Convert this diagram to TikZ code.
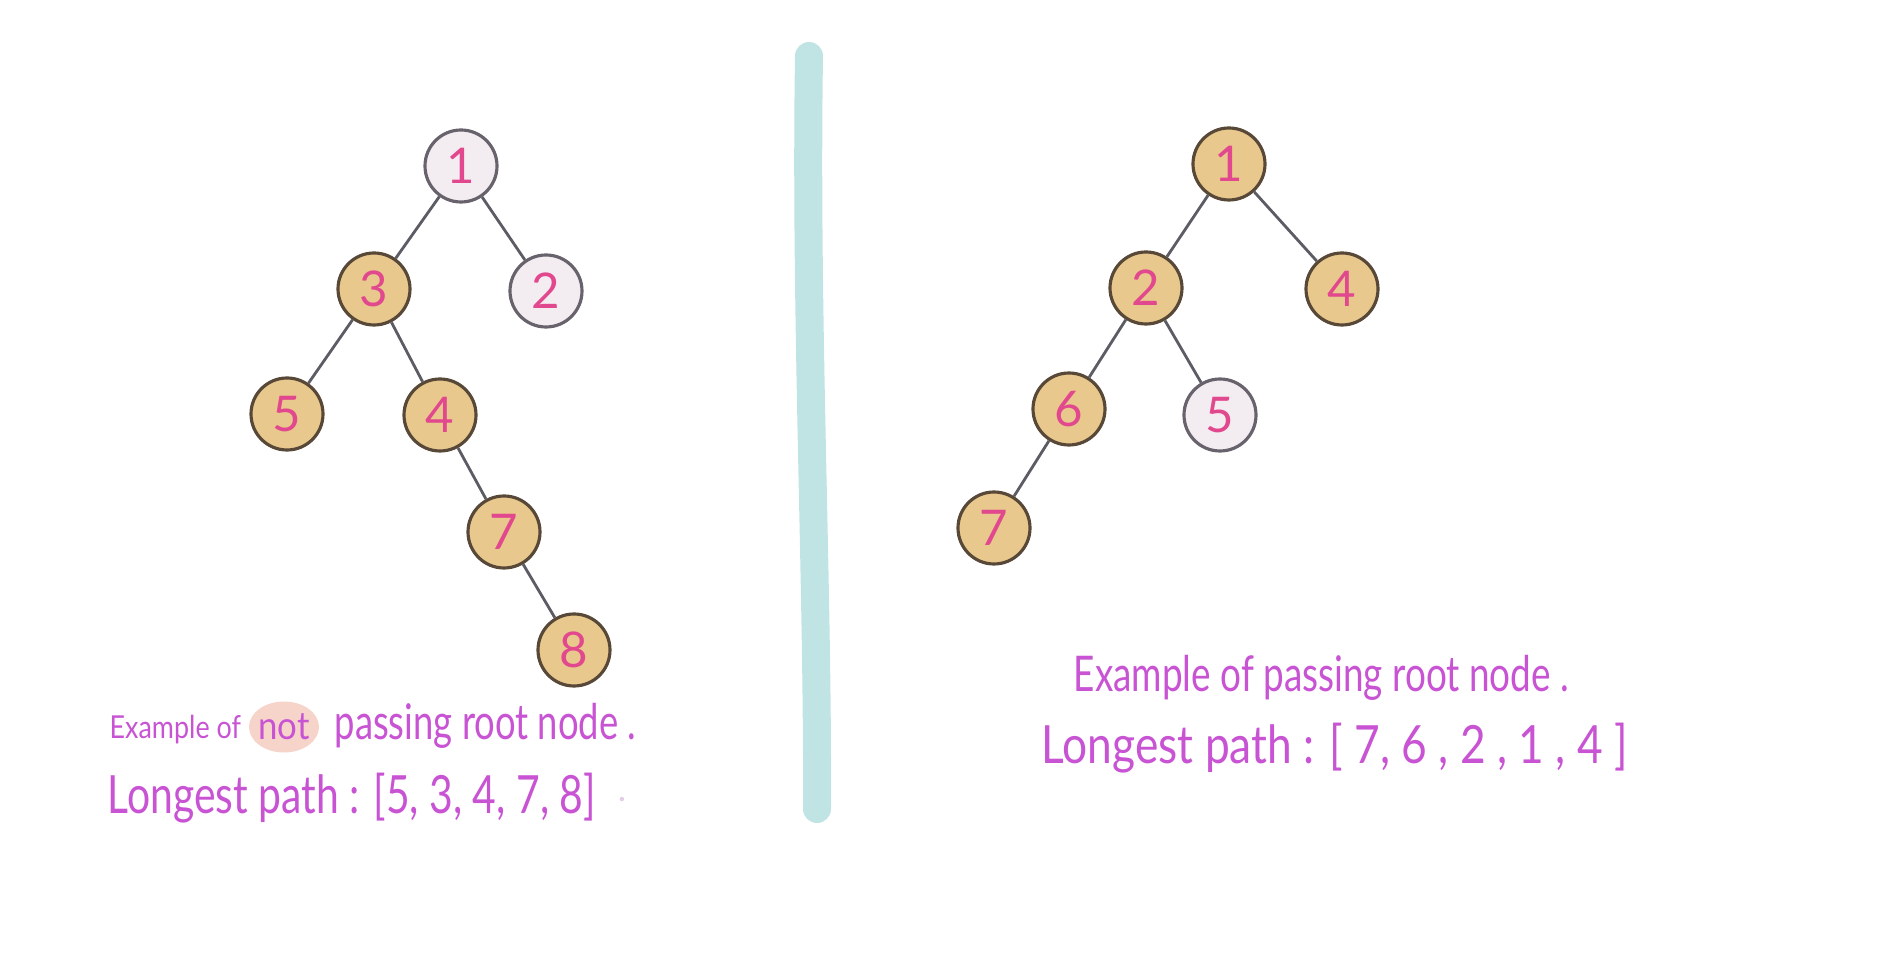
\documentclass[tikz,border=0pt]{standalone}
\usepackage{fontspec}
\usepackage{graphicx}
\setmainfont{Lato}
\usetikzlibrary{positioning,shapes.geometric}

\definecolor{gold}{RGB}{232,200,140}
\definecolor{goldline}{RGB}{88,72,56}
\definecolor{pale}{RGB}{243,237,241}
\definecolor{paleline}{RGB}{104,98,108}
\definecolor{digit}{RGB}{226,72,142}
\definecolor{branch}{RGB}{92,92,100}
\definecolor{ink}{RGB}{200,84,212}
\definecolor{blush}{RGB}{246,212,202}
\definecolor{teal}{RGB}{192,228,228}
\definecolor{speck}{RGB}{225,205,228}

% narrow handwriting-like lettering
\newcommand{\hand}[2]{\scalebox{#1}[1]{#2}}

\begin{document}
\begin{tikzpicture}[on grid, auto,
    hot/.style={circle, draw=goldline, fill=gold, line width=0.9pt, minimum size=0.72cm,
      inner sep=0pt, text=digit, font=\fontsize{14}{16}\selectfont},
    cold/.style={hot, draw=paleline, fill=pale},
    tree/.style={draw=branch, line width=0.8pt},
    note/.style={anchor=west, inner sep=0pt, text=ink, font=\fontsize{14}{16}\selectfont}]
  \useasboundingbox (0,0) rectangle (19.04,-9.56);

  % divider
  \draw[teal, line width=0.28cm, line cap=round]
    (8.09,-0.56) .. controls (8.05,-3.2) and (8.18,-5.8) .. (8.17,-8.09);

  % left tree: longest path not through the root
  \node[cold] (l1) at (4.61,-1.66)             {1};
  \node[hot]  (l3) [below left=1.23cm and 0.87cm of l1]  {3};
  \node[cold] (l2) [below right=1.25cm and 0.85cm of l1] {2};
  \node[hot]  (l5) [below left=1.25cm and 0.87cm of l3]  {5};
  \node[hot]  (l4) [below right=1.26cm and 0.66cm of l3] {4};
  \node[hot]  (l7) [below right=1.17cm and 0.64cm of l4] {7};
  \node[hot]  (l8) [below right=1.18cm and 0.70cm of l7] {8};

  \path[tree]
    (l1) edge (l3)
    (l1) edge (l2)
    (l3) edge (l5)
    (l3) edge (l4)
    (l4) edge (l7)
    (l7) edge (l8);

  % right tree: longest path through the root
  \node[hot]  (r1) at (12.29,-1.64)            {1};
  \node[hot]  (r2) [below left=1.24cm and 0.83cm of r1]  {2};
  \node[hot]  (r4) [below right=1.25cm and 1.13cm of r1] {4};
  \node[hot]  (r6) [below left=1.21cm and 0.77cm of r2]  {6};
  \node[cold] (r5) [below right=1.27cm and 0.74cm of r2] {5};
  \node[hot]  (r7) [below left=1.19cm and 0.75cm of r6]  {7};

  \path[tree]
    (r1) edge (r2)
    (r1) edge (r4)
    (r2) edge (r6)
    (r2) edge (r5)
    (r6) edge (r7);

  % captions
  \node[ellipse, fill=blush, minimum width=0.70cm, minimum height=0.51cm, inner sep=0pt,
    label={[text=ink, font=\fontsize{11}{13}\selectfont]center:\hand{0.9}{not}}] (lnot) at (2.84,-7.27) {};
  \node[note, font=\fontsize{9}{11}\selectfont] (lex) at (1.09,-7.30) {\hand{0.85}{Example of}};
  \node[note] (lpass) at (3.34,-7.26) {\hand{0.74}{passing root node .}};
  \node[note, font=\fontsize{15}{17}\selectfont] (llong) at (1.07,-7.98)
    {\hand{0.775}{Longest path : [5, 3, 4, 7, 8]}};
  \node[text=speck, font=\fontsize{10}{12}\selectfont] (lspeck) at (6.22,-8.0) {.};

  \node[note] (rex) at (10.73,-6.78) {\hand{0.75}{Example of passing root node .}};
  \node[note, font=\fontsize{15}{17}\selectfont] (rlong) at (10.41,-7.48)
    {\hand{0.84}{Longest path : [ 7, 6 , 2 , 1 , 4 ]}};
\end{tikzpicture}
\end{document}
